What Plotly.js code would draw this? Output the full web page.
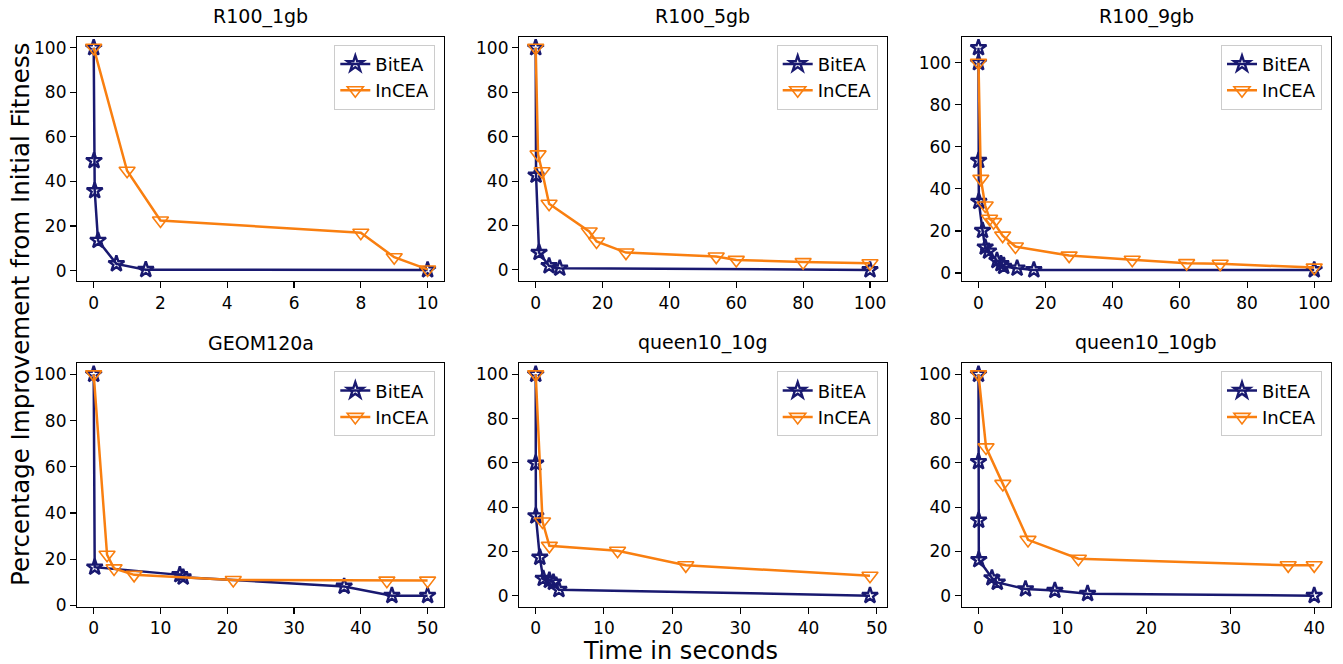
<!DOCTYPE html>
<html>
<head>
<meta charset="utf-8">
<script src="https://cdn.plot.ly/plotly-3.0.1.min.js"></script>
<style>html,body{margin:0;padding:0;background:#fff;}#chart{width:1343px;height:664px;}</style>
</head>
<body>
<div id="chart"></div>
<script>
// ---- data ----
const titles = ["R100_1gb", "R100_5gb", "R100_9gb", "GEOM120a", "queen10_10g", "queen10_10gb"];
const seriesNames = ["BitEA", "InCEA"];

const r1gb_bit_x = [0, 0.01, 0.03, 0.13, 0.68, 1.56, 10];
const r1gb_bit_y = [100, 49.3, 35.8, 13.5, 3.0, 0.4, 0.3];
const r1gb_inc_x = [0, 1, 2, 8, 9, 10];
const r1gb_inc_y = [100, 44.8, 22.5, 17, 6, 0.5];

const r5gb_bit_x = [0, 0.1, 1, 4, 7.2, 100];
const r5gb_bit_y = [100, 42.6, 7.8, 1.8, 0.75, 0];
const r5gb_inc_x = [0, 0.7, 1.9, 4, 16, 18.2, 27, 54, 60, 80, 100];
const r5gb_inc_y = [100, 52, 44.4, 29.8, 17.3, 12.8, 7.8, 6, 4.5, 3.5, 3];

const r9gb_bit_x = [0, 0, 0.05, 0.1, 1.2, 2.0, 3.0, 5.5, 6.7, 7.5, 11.5, 16.5, 100];
const r9gb_bit_y = [107.1, 100, 53.5, 34, 20.2, 12.3, 10.4, 5.9, 4.4, 3.1, 2.3, 1.5, 1.5];
const r9gb_inc_x = [0, 0.7, 2, 3.3, 4.5, 7.2, 11, 27, 45.8, 62, 72, 100];
const r9gb_inc_y = [100, 44.8, 32.1, 25.8, 24.2, 17.8, 12.6, 8.3, 6.3, 4.7, 4.4, 2.6];

const geom_bit_x = [0, 0.15, 12.9, 13.4, 37.5, 44.65, 50];
const geom_bit_y = [100, 16.5, 13.2, 12.2, 8.2, 4.2, 4.2];
const geom_inc_x = [0, 2, 3.05, 6.05, 20.9, 43.9, 50];
const geom_inc_y = [100, 21.9, 16, 13.2, 11, 10.7, 10.7];

const q10g_bit_x = [0, 0, 0.02, 0.6, 1.1, 2, 2.6, 3.4, 49];
const q10g_bit_y = [100, 59.8, 36, 17.3, 7.7, 6.9, 6.0, 2.7, 0];
const q10g_inc_x = [0, 1, 2, 12, 22, 49];
const q10g_inc_y = [100, 33.5, 22.5, 20.3, 13.7, 9];

const q10gb_bit_x = [0, 0, 0.02, 0.04, 1.6, 2.24, 5.6, 9.1, 13.0, 40];
const q10gb_bit_y = [100, 60.5, 34, 16.2, 8, 6, 3, 2.3, 0.9, 0];
const q10gb_inc_x = [0, 0.9, 2.9, 5.9, 11.9, 36.9, 40];
const q10gb_inc_y = [100, 67, 50.5, 25.2, 16.7, 13.7, 13.7];

const xTickStep = [2, 20, 20, 10, 10, 10];
const yTickStep = [20, 20, 20, 20, 20, 20];

// ---- layout / drawing ----
const panels = [
  [r1gb_bit_x, r1gb_bit_y, r1gb_inc_x, r1gb_inc_y],
  [r5gb_bit_x, r5gb_bit_y, r5gb_inc_x, r5gb_inc_y],
  [r9gb_bit_x, r9gb_bit_y, r9gb_inc_x, r9gb_inc_y],
  [geom_bit_x, geom_bit_y, geom_inc_x, geom_inc_y],
  [q10g_bit_x, q10g_bit_y, q10g_inc_x, q10g_inc_y],
  [q10gb_bit_x, q10gb_bit_y, q10gb_inc_x, q10gb_inc_y]
];

const W = 1343, H = 664;
const colPx = [[77, 444.3], [519, 886.7], [961.7, 1331]];
const rowPx = [[36.7, 281], [363.3, 606.7]];
const NAVY = '#191970', ORANGE = '#f97f10';
const FONT = 'DejaVu Sans, Liberation Sans, sans-serif';

function autoRange(a, b) {
  const all = a.concat(b);
  const mn = Math.min.apply(null, all), mx = Math.max.apply(null, all);
  const pad = 0.05 * (mx - mn);
  return [mn - pad, mx + pad];
}

const traces = [];
const layout = {
  width: W, height: H,
  margin: {l: 0, r: 0, t: 0, b: 0},
  paper_bgcolor: '#fff', plot_bgcolor: '#fff',
  font: {family: FONT, color: '#000', size: 17},
  showlegend: true,
  annotations: []
};

panels.forEach((p, i) => {
  const n = i + 1;
  const sfx = n === 1 ? '' : String(n);
  const col = i % 3, row = Math.floor(i / 3);
  const xd = [colPx[col][0] / W, colPx[col][1] / W];
  const yd = [1 - rowPx[row][1] / H, 1 - rowPx[row][0] / H];
  const legName = 'legend' + sfx;
  const [bx, by, ix, iy] = p;

  traces.push({
    x: bx, y: by, type: 'scatter', mode: 'lines+markers', name: seriesNames[0],
    xaxis: 'x' + sfx, yaxis: 'y' + sfx, legend: legName,
    line: {color: NAVY, width: 2.5},
    marker: {symbol: 'star-open', size: 12, color: NAVY, line: {width: 2.4, color: NAVY}}
  });
  traces.push({
    x: ix, y: iy, type: 'scatter', mode: 'lines+markers', name: seriesNames[1],
    xaxis: 'x' + sfx, yaxis: 'y' + sfx, legend: legName,
    line: {color: ORANGE, width: 2.5},
    marker: {symbol: 'triangle-down-open', size: 14, color: ORANGE, line: {width: 1.6, color: ORANGE}}
  });

  const axCommon = {
    showgrid: false, zeroline: false, showline: true, linecolor: '#000', linewidth: 1.1,
    mirror: true, ticks: 'outside', ticklen: 6, tickwidth: 1.1, tickcolor: '#000',
    tickfont: {family: FONT, size: 17, color: '#000'}
  };
  layout['xaxis' + sfx] = Object.assign({}, axCommon, {
    domain: xd, anchor: 'y' + sfx, range: autoRange(bx, ix), tick0: 0, dtick: xTickStep[i]
  });
  layout['yaxis' + sfx] = Object.assign({}, axCommon, {
    domain: yd, anchor: 'x' + sfx, range: autoRange(by, iy), tick0: 0, dtick: yTickStep[i]
  });

  layout[legName] = {
    x: (colPx[col][1] - 9) / W, y: 1 - (rowPx[row][0] + 8) / H,
    xref: 'paper', yref: 'paper', xanchor: 'right', yanchor: 'top',
    bgcolor: 'rgba(255,255,255,0.8)', bordercolor: '#cccccc', borderwidth: 1,
    font: {family: FONT, size: 18, color: '#000'}, tracegroupgap: 0
  };

  layout.annotations.push({
    text: titles[i], xref: 'paper', yref: 'paper',
    x: (colPx[col][0] + colPx[col][1]) / 2 / W, y: 1 - (rowPx[row][0] - 7) / H,
    xanchor: 'center', yanchor: 'bottom', showarrow: false,
    font: {family: FONT, size: 19, color: '#000'}
  });
});

layout.annotations.push({
  text: 'Time in seconds', xref: 'paper', yref: 'paper',
  x: 680 / W, y: 1 - 651 / H, xanchor: 'center', yanchor: 'middle', showarrow: false,
  font: {family: FONT, size: 24, color: '#000'}
});
layout.annotations.push({
  text: 'Percentage Improvement from Initial Fitness', xref: 'paper', yref: 'paper',
  x: 20 / W, y: 1 - 315 / H, xanchor: 'center', yanchor: 'middle', showarrow: false,
  textangle: -90, font: {family: FONT, size: 24.5, color: '#000'}
});

Plotly.newPlot('chart', traces, layout, {staticPlot: true, displayModeBar: false});
</script>
</body>
</html>
